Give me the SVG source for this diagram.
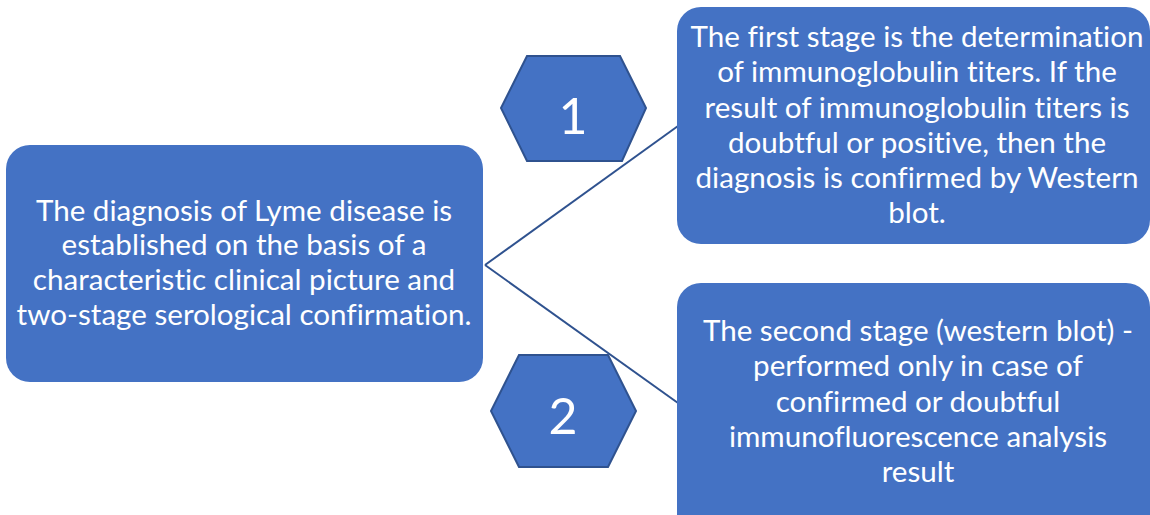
<svg xmlns="http://www.w3.org/2000/svg" width="1150" height="515" viewBox="0 0 1150 515">
<style>
.box{fill:#4472C4;}
.hex{fill:#4472C4;stroke:#2F528F;stroke-width:2;}
.t{font-family:Lato,"Open Sans","Liberation Sans",sans-serif;font-size:29.6px;fill:#ffffff;text-anchor:middle;font-variant-ligatures:none;}
.n{font-family:Lato,"Open Sans","Liberation Sans",sans-serif;font-size:50px;fill:#ffffff;text-anchor:middle;}
.c{stroke:#2F528F;stroke-width:2;fill:none;}
</style>
<rect width="1150" height="515" fill="#ffffff"/>
<g id="hex1">
<polygon class="hex" points="527,56 620,56 646,108 622,161 527,161 501,108"/>
<text class="n" x="573" y="134">1</text>
</g>
<g id="hex2">
<polygon class="hex" points="519,355 608,355 636,411 608,467 519,467 491,411"/>
<text class="n" x="563" y="434">2</text>
</g>
<g id="connectors">
<line class="c" x1="485" y1="265" x2="678" y2="126"/>
<line class="c" x1="485" y1="265" x2="678" y2="403"/>
</g>
<g id="main">
<rect class="box" x="6" y="145" width="477" height="237" rx="24"/>
<text class="t" x="244" y="221">The diagnosis of Lyme disease is</text>
<text class="t" x="244" y="255">established on the basis of a</text>
<text class="t" x="244" y="290">characteristic clinical picture and</text>
<text class="t" x="244" y="325">two-stage serological confirmation.</text>
</g>
<g id="stage1">
<rect class="box" x="677" y="7" width="473" height="237" rx="24"/>
<text class="t" x="917" y="47">The first stage is the determination</text>
<text class="t" x="917" y="82">of immunoglobulin titers. If the</text>
<text class="t" x="917" y="118">result of immunoglobulin titers is</text>
<text class="t" x="917" y="153">doubtful or positive, then the</text>
<text class="t" x="917" y="188">diagnosis is confirmed by Western</text>
<text class="t" x="917" y="223">blot.</text>
</g>
<g id="stage2">
<rect class="box" x="677" y="283" width="473" height="257" rx="24"/>
<text class="t" x="918" y="341">The second stage (western blot) -</text>
<text class="t" x="918" y="376">performed only in case of</text>
<text class="t" x="918" y="412">confirmed or doubtful</text>
<text class="t" x="918" y="447">immunofluorescence analysis</text>
<text class="t" x="918" y="482">result</text>
</g>
</svg>
